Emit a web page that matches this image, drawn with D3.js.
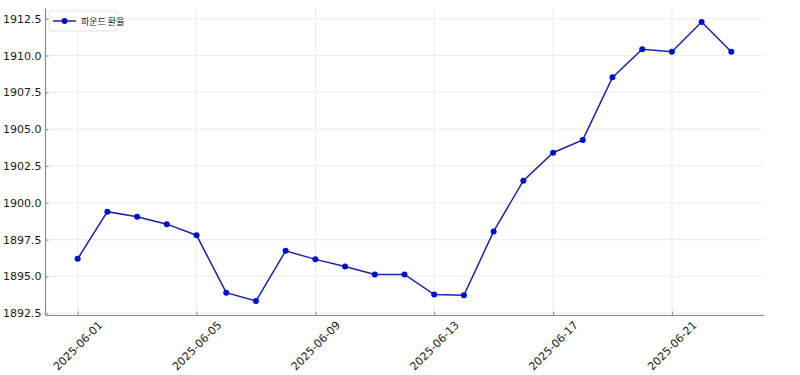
<!DOCTYPE html>
<html>
<head>
<meta charset="utf-8">
<script src="https://cdn.jsdelivr.net/npm/d3@7"></script>
<style>
  body { margin: 0; background: #fff; }
  svg { display: block; font-family: "DejaVu Sans", sans-serif; }
</style>
</head>
<body>
<svg id="chart" width="800" height="375"></svg>
<script>
const dates = [
  "2025-06-01", "2025-06-02", "2025-06-03", "2025-06-04", "2025-06-05",
  "2025-06-06", "2025-06-07", "2025-06-08", "2025-06-09", "2025-06-10",
  "2025-06-11", "2025-06-12", "2025-06-13", "2025-06-14", "2025-06-15",
  "2025-06-16", "2025-06-17", "2025-06-18", "2025-06-19", "2025-06-20",
  "2025-06-21", "2025-06-22", "2025-06-23"
];
const values = [
  1896.2, 1899.4, 1899.06, 1898.55, 1897.8,
  1893.9, 1893.33, 1896.74, 1896.16, 1895.67,
  1895.14, 1895.14, 1893.77, 1893.72, 1898.06,
  1901.5, 1903.4, 1904.27, 1908.52, 1910.43,
  1910.26, 1912.28, 1910.26
];
const xTickLabels = ["2025-06-01", "2025-06-05", "2025-06-09", "2025-06-13", "2025-06-17", "2025-06-21"];
const yTickValues = [1892.5, 1895.0, 1897.5, 1900.0, 1902.5, 1905.0, 1907.5, 1910.0, 1912.5];
const seriesName = "파운드 환율";

const parse = d3.timeParse("%Y-%m-%d");
const data = dates.map((d, i) => ({ date: parse(d), value: values[i] }));

const svg = d3.select("#chart");
const m = { left: 45, right: 764, top: 8, bottom: 315 };

// matplotlib style 5% margins
const xExt = d3.extent(data, d => d.date.getTime());
const xPad = (xExt[1] - xExt[0]) * 0.05;
const x = d3.scaleTime()
  .domain([new Date(xExt[0] - xPad), new Date(xExt[1] + xPad)])
  .range([m.left, m.right]);

const yExt = d3.extent(values);
const yPad = (yExt[1] - yExt[0]) * 0.05;
const y = d3.scaleLinear()
  .domain([yExt[0] - yPad, yExt[1] + yPad])
  .range([m.bottom, m.top]);

const xTicks = xTickLabels.map(parse);

// grid
const grid = svg.append("g");
grid.selectAll(".gy").data(yTickValues).enter().append("line")
  .attr("x1", m.left).attr("x2", m.right)
  .attr("y1", d => y(d)).attr("y2", d => y(d))
  .attr("stroke", "#e8e8e8").attr("stroke-width", 0.8);
grid.selectAll(".gx").data(xTicks).enter().append("line")
  .attr("x1", d => x(d)).attr("x2", d => x(d))
  .attr("y1", m.top).attr("y2", m.bottom)
  .attr("stroke", "#e8e8e8").attr("stroke-width", 0.8);

// axes
const yAxis = d3.axisLeft(y).tickValues(yTickValues)
  .tickFormat(d3.format(".1f")).tickSizeInner(-3.5).tickSizeOuter(0).tickPadding(3.5);
const gY = svg.append("g").attr("transform", `translate(${m.left},0)`).call(yAxis);
gY.select(".domain").attr("stroke", "#8a8a8a").attr("stroke-width", 1.2);
gY.selectAll(".tick line").attr("stroke", "#8a8a8a");
gY.selectAll(".tick text").attr("fill", "#1a1a1a").style("font-size", "11px")
  .style("font-family", "DejaVu Sans");

const xAxis = d3.axisBottom(x).tickValues(xTicks)
  .tickFormat(d3.timeFormat("%Y-%m-%d")).tickSizeInner(-3.5).tickSizeOuter(0);
const gX = svg.append("g").attr("transform", `translate(0,${m.bottom})`).call(xAxis);
gX.select(".domain").attr("stroke", "#8a8a8a").attr("stroke-width", 1.2);
gX.selectAll(".tick line").attr("stroke", "#8a8a8a");
gX.selectAll(".tick text")
  .attr("fill", "#1a1a1a").style("font-size", "11px").style("font-family", "DejaVu Sans")
  .attr("text-anchor", "middle").attr("dy", null).attr("y", null)
  .attr("dominant-baseline", "central")
  .attr("transform", "translate(0,31) rotate(-45)");

// line + markers
const line = d3.line().x(d => x(d.date)).y(d => y(d.value));
svg.append("path").datum(data)
  .attr("d", line)
  .attr("fill", "none")
  .attr("stroke", "#1c22a6")
  .attr("stroke-width", 1.5);
svg.append("g").selectAll("circle").data(data).enter().append("circle")
  .attr("cx", d => x(d.date)).attr("cy", d => y(d.value))
  .attr("r", 3).attr("fill", "#0010cc");

// legend
const lg = svg.append("g").attr("transform", "translate(49,11)");
lg.append("rect").attr("width", 68).attr("height", 20).attr("rx", 2)
  .attr("fill", "#fff").attr("fill-opacity", 0.85).attr("stroke", "#dcdcdc").attr("stroke-width", 0.8);
lg.append("line").attr("x1", 4).attr("x2", 27).attr("y1", 10).attr("y2", 10)
  .attr("stroke", "#1c22a6").attr("stroke-width", 1.5);
lg.append("circle").attr("cx", 15.5).attr("cy", 10).attr("r", 3).attr("fill", "#0010cc");
lg.append("text").attr("x", 32).attr("y", 10).attr("dominant-baseline", "central")
  .style("font-size", "9px").style("font-family", "Noto Sans CJK KR").attr("fill", "#222")
  .text(seriesName);
</script>
</body>
</html>
